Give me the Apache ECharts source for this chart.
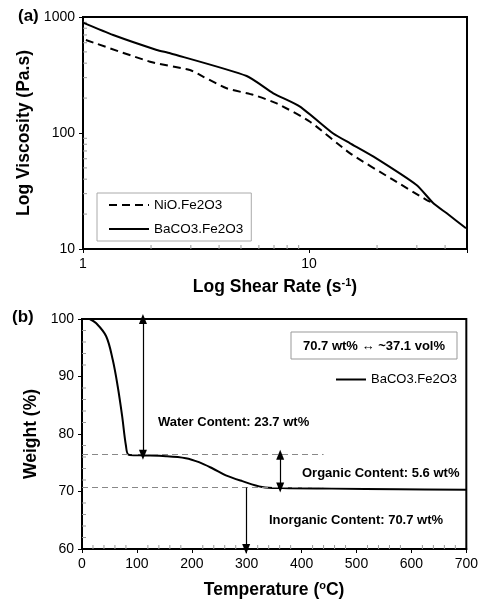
<!DOCTYPE html>
<html>
<head>
<meta charset="utf-8">
<script src="https://cdn.jsdelivr.net/npm/echarts@6/dist/echarts.min.js"></script>
<style>
  html, body { margin: 0; padding: 0; background: #fff; }
  #main { width: 481px; height: 600px; }
</style>
</head>
<body>
<div id="main"></div>
<script>
// (a) viscosity vs shear rate, log-log
var shearBa = [1, 1.36, 2.12, 2.43, 5.3, 6.95, 9.12, 12.8, 15.2, 19.3, 29.9, 35.5, 40.7, 49.5];
var viscBa = [893, 699, 520, 487, 310, 220, 169, 99, 81.5, 62.5, 35.6, 24.8, 20.3, 15.1];
var shearNi = [1.03, 1.98, 2.97, 3.41, 4.32, 5.67, 7.2, 10.1, 15.2, 23.6, 33.2, 35.5];
var viscNi = [634, 412, 349, 305, 243, 213, 180, 125, 66.8, 39.4, 26.4, 24.8];
var shearMinor = [2, 3, 4, 5, 6, 7, 8, 9, 20, 30, 40];
var viscMinor = [20, 30, 40, 50, 60, 70, 80, 90, 200, 300, 400, 500, 600, 700, 800, 900];

// (b) TGA curve
var temps = [14, 26, 44, 56, 65, 73, 80, 85, 105, 153, 189, 213, 238, 262, 292, 328, 364, 455, 576, 700];
var weights = [100, 99.25, 97, 92.9, 88.3, 83.2, 78, 76.4, 76.3, 76.15, 75.8, 75.1, 74, 72.8, 71.8, 70.8, 70.6, 70.5, 70.4, 70.3];
var tempMinor = [20, 40, 60, 80, 120, 140, 160, 180, 220, 240, 260, 280, 320, 340, 360, 380, 420, 440, 460, 480, 520, 540, 560, 580, 620, 640, 660, 680];
var weightMinor = [62, 64, 66, 68, 72, 74, 76, 78, 82, 84, 86, 88, 92, 94, 96, 98];

var waterLevel = 76.4;
var inorgLevel = 70.7;

function pairs(xs, ys) {
  var out = [];
  for (var i = 0; i < xs.length; i++) out.push([xs[i], ys[i]]);
  return out;
}

// minor ticks drawn inward, major ticks stay outward like the original
function minorTicks(xs, ys, x0, y0) {
  var out = [];
  xs.forEach(function (v) { out.push([v, y0, 0]); });
  ys.forEach(function (v) { out.push([x0, v, 1]); });
  return out;
}
function renderMinor(params, api) {
  var p = api.coord([api.value(0), api.value(1)]);
  var horiz = api.value(2) === 1;
  return {
    type: 'line',
    shape: horiz ? { x1: p[0], y1: p[1], x2: p[0] + 4, y2: p[1] } : { x1: p[0], y1: p[1], x2: p[0], y2: p[1] - 4 },
    style: { stroke: '#999', lineWidth: 1 }
  };
}

var font = 'Liberation Sans, Arial, sans-serif';
var chart = echarts.init(document.getElementById('main'));

var tickLbl = { fontFamily: font, fontSize: 14, color: '#000' };
var titleStyle = { fontFamily: font, fontSize: 17.5, fontWeight: 'bold', color: '#000' };
var supStyle = { fontFamily: font, fontSize: 11, fontWeight: 'bold', color: '#000', verticalAlign: 'top', padding: [0, 0, 9, 0] };
var axLine = { lineStyle: { color: '#000', width: 2 } };
var axTick = { inside: false, length: 4, lineStyle: { color: '#000' } };

var option = {
  animation: false,
  grid: [
    { left: 83, right: 14, top: 17, height: 232, show: true, borderColor: '#000', borderWidth: 2 },
    { left: 82, right: 13, top: 319, height: 232, show: true, borderColor: '#000', borderWidth: 2 }
  ],
  xAxis: [
    {
      gridIndex: 0, type: 'log', logBase: 10, min: 1, max: 50,
      name: '{a|Log Shear Rate (s}{s|-1}{a|)}', nameLocation: 'middle', nameGap: 28,
      nameTextStyle: { rich: { a: titleStyle, s: supStyle } },
      axisLine: axLine, axisTick: axTick,
      axisLabel: {
        fontFamily: font, fontSize: 14, color: '#000',
        formatter: function (v) { return (v === 1 || v === 10) ? String(v) : ''; }
      },
      splitLine: { show: false }
    },
    {
      gridIndex: 1, type: 'value', min: 0, max: 700, interval: 100,
      name: '{a|Temperature (}{s|o}{a|C)}', nameLocation: 'middle', nameGap: 31,
      nameTextStyle: { rich: { a: titleStyle, s: supStyle } },
      axisLine: axLine, axisTick: axTick, axisLabel: tickLbl,
      splitLine: { show: false }
    }
  ],
  yAxis: [
    {
      gridIndex: 0, type: 'log', logBase: 10, min: 10, max: 1000,
      name: 'Log Viscosity (Pa.s)', nameLocation: 'middle', nameGap: 45,
      nameTextStyle: titleStyle,
      axisLine: axLine, axisTick: axTick,
      axisLabel: { fontFamily: font, fontSize: 14, color: '#000', formatter: function (v) { return String(v); } },
      splitLine: { show: false }
    },
    {
      gridIndex: 1, type: 'value', min: 60, max: 100, interval: 10,
      name: 'Weight (%)', nameLocation: 'middle', nameGap: 40,
      nameTextStyle: titleStyle,
      axisLine: axLine, axisTick: axTick, axisLabel: tickLbl,
      splitLine: { show: false }
    }
  ],
  legend: [
    {
      data: ['NiO.Fe2O3', 'BaCO3.Fe2O3'],
      orient: 'vertical', left: 97, top: 193,
      padding: [5, 8, 5, 11], itemGap: 10, itemWidth: 40, itemHeight: 14,
      borderColor: '#aaa', borderWidth: 1,
      itemStyle: { opacity: 0 },
      textStyle: { fontFamily: font, fontSize: 13.5, color: '#000' }
    },
    {
      data: ['BaCO3.Fe2O3'],
      left: 335, top: 373, padding: 0, itemWidth: 30, itemHeight: 12,
      itemStyle: { opacity: 0 },
      textStyle: { fontFamily: font, fontSize: 13, color: '#000' }
    }
  ],
  graphic: [
    { type: 'text', left: 18, top: 8, style: { text: '(a)', fontFamily: font, fontSize: 17, fontWeight: 'bold', fill: '#000' } },
    { type: 'text', left: 12, top: 309, style: { text: '(b)', fontFamily: font, fontSize: 17, fontWeight: 'bold', fill: '#000' } },
    { type: 'rect', shape: { x: 291, y: 332, width: 166, height: 27 }, style: { fill: '#fff', stroke: '#999', lineWidth: 1 }, z: 10 },
    { type: 'text', x: 374, y: 346, z: 11, style: { text: '70.7 wt% \u2194 ~37.1 vol%', fontFamily: font, fontSize: 13, fontWeight: 'bold', fill: '#000', align: 'center', verticalAlign: 'middle' } },
    { type: 'text', x: 158, y: 422, z: 11, style: { text: 'Water Content: 23.7 wt%', fontFamily: font, fontSize: 13, fontWeight: 'bold', fill: '#000', verticalAlign: 'middle' } },
    { type: 'text', x: 302, y: 473, z: 11, style: { text: 'Organic Content: 5.6 wt%', fontFamily: font, fontSize: 13, fontWeight: 'bold', fill: '#000', verticalAlign: 'middle' } },
    { type: 'text', x: 269, y: 520, z: 11, style: { text: 'Inorganic Content: 70.7 wt%', fontFamily: font, fontSize: 13, fontWeight: 'bold', fill: '#000', verticalAlign: 'middle' } }
  ],
  series: [
    {
      name: 'NiO.Fe2O3', type: 'line', xAxisIndex: 0, yAxisIndex: 0,
      data: pairs(shearNi, viscNi), symbol: 'none', smooth: 0.2,
      lineStyle: { color: '#000', width: 2, type: [8, 5] }, itemStyle: { color: '#000' }
    },
    {
      name: 'BaCO3.Fe2O3', type: 'line', xAxisIndex: 0, yAxisIndex: 0,
      data: pairs(shearBa, viscBa), symbol: 'none', smooth: 0.2,
      lineStyle: { color: '#000', width: 2 }, itemStyle: { color: '#000' }
    },
    {
      name: 'BaCO3.Fe2O3', type: 'line', xAxisIndex: 1, yAxisIndex: 1,
      data: pairs(temps, weights), symbol: 'none', smooth: 0.35,
      lineStyle: { color: '#000', width: 2 }, itemStyle: { color: '#000' },
      markLine: {
        silent: true, symbol: 'none', label: { show: false },
        lineStyle: { color: '#000', width: 1.2, type: 'solid' },
        data: [
          [{ coord: [0, waterLevel], lineStyle: { color: '#888', type: [6, 4], width: 1.2 } }, { coord: [440, waterLevel] }],
          [{ coord: [0, inorgLevel], lineStyle: { color: '#888', type: [6, 4], width: 1.2 } }, { coord: [440, inorgLevel] }],
          [{ coord: [111, 100], symbol: 'triangle', symbolSize: [8, 10] }, { coord: [111, waterLevel], symbol: 'triangle', symbolSize: [8, 10] }],
          [{ coord: [361, waterLevel], symbol: 'triangle', symbolSize: [8, 10] }, { coord: [361, inorgLevel], symbol: 'triangle', symbolSize: [8, 10] }],
          [{ coord: [299, inorgLevel], symbol: 'none' }, { coord: [299, 60], symbol: 'triangle', symbolSize: [8, 10] }]
        ]
      }
    },
    {
      name: 'minorA', type: 'custom', xAxisIndex: 0, yAxisIndex: 0, silent: true,
      data: minorTicks(shearMinor, viscMinor, 1, 10), renderItem: renderMinor
    },
    {
      name: 'minorB', type: 'custom', xAxisIndex: 1, yAxisIndex: 1, silent: true,
      data: minorTicks(tempMinor, weightMinor, 0, 60), renderItem: renderMinor
    }
  ]
};

chart.setOption(option);
</script>
</body>
</html>
